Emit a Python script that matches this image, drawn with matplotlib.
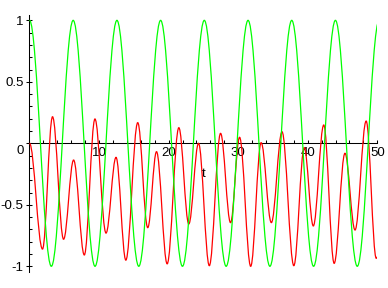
import matplotlib
matplotlib.use("Agg")
import matplotlib.pyplot as plt
import matplotlib.transforms as mtransforms
from matplotlib.path import Path
from matplotlib.patches import PathPatch
from matplotlib.ticker import MultipleLocator, FixedLocator

plt.rcParams['font.family'] = ['Liberation Sans', 'DejaVu Sans']
plt.rcParams['axes.unicode_minus'] = False

# Extrema (t, value)
green_t = [0.0, 3.14, 6.28, 9.42, 12.57, 15.71, 18.85, 21.99, 25.13, 28.27,
           31.42, 34.56, 37.70, 40.84, 43.98, 47.12, 50.27]
green_y = [1.0, -1.0, 1.0, -1.0, 1.0, -1.0, 1.0, -1.0, 1.0, -1.0,
           1.0, -1.0, 1.0, -1.0, 1.0, -1.0, 1.0]

red_t = [0.0, 1.87, 3.31, 4.90, 6.34, 7.88, 9.41, 11.0, 12.44, 13.85,
         15.56, 17.0, 18.26, 19.79, 21.47, 22.9, 24.3, 25.85, 27.47, 28.9,
         30.2, 31.8, 33.3, 34.77, 36.3, 38.0, 39.5, 40.8, 42.3, 43.8,
         45.35, 46.8, 48.4, 49.85, 50.0]
red_y = [0.0, -0.86, 0.216, -0.78, -0.136, -0.908, 0.198, -0.73, -0.114, -0.95,
         0.168, -0.686, -0.068, -0.98, 0.127, -0.656, 0.0, -0.995, 0.081, -0.645,
         0.049, -1.0, 0.005, -0.645, 0.094, -0.995, -0.035, -0.672, 0.149, -0.976,
         -0.081, -0.705, 0.181, -0.935, -0.925]

x_ticks = [10, 20, 30, 40, 50]
x_tick_labels = ["10", "20", "30", "40", "50"]
y_ticks = [-1, -0.5, 0, 0.5, 1]
y_tick_labels = ["-1", "-0.5", "0", "0.5", "1"]
x_label = "t"


def wave_path(ts, ys):
    """Smooth curve through successive extrema (horizontal tangents)."""
    verts = [(ts[0], ys[0])]
    codes = [Path.MOVETO]
    for i in range(len(ts) - 1):
        d = (ts[i + 1] - ts[i]) * 0.3634
        verts += [(ts[i] + d, ys[i]), (ts[i + 1] - d, ys[i + 1]), (ts[i + 1], ys[i + 1])]
        codes += [Path.CURVE4] * 3
    return Path(verts, codes)


fig = plt.figure(figsize=(3.88, 2.88), dpi=100)
ax = fig.add_axes([29.5 / 388, 0.054, (377.3 - 29.5) / 388, 0.8946])
ax.set_xlim(0, 50)
ax.set_ylim(-1.05, 1.045)

ax.add_patch(PathPatch(wave_path(red_t, red_y), fill=False, edgecolor='#ff0000', lw=0.9, zorder=2))
ax.add_patch(PathPatch(wave_path(green_t, green_y), fill=False, edgecolor='#00ff00', lw=0.9, zorder=3))

for s in ['top', 'right']:
    ax.spines[s].set_visible(False)
ax.spines['bottom'].set_position(('data', 0))
for s in ['left', 'bottom']:
    ax.spines[s].set_linewidth(0.75)
    ax.spines[s].set_color('black')
    ax.spines[s].set_zorder(1)

ax.xaxis.set_major_locator(FixedLocator(x_ticks))
ax.set_xticklabels(x_tick_labels)
ax.xaxis.set_minor_locator(MultipleLocator(2))
ax.tick_params(axis='x', which='both', direction='in', length=2.2, width=0.75, pad=2.5,
               labelsize=9.5, colors='black')

ax.yaxis.set_major_locator(FixedLocator(y_ticks))
ax.set_yticklabels(y_tick_labels)
ax.yaxis.set_minor_locator(MultipleLocator(0.1))
ax.tick_params(axis='y', which='major', direction='inout', length=4.3, width=0.75, pad=2.0,
               labelsize=9.5, colors='black')
ax.tick_params(axis='y', which='minor', direction='in', length=1.8, width=0.75)

# the "0" label sits just below the horizontal axis line
zero_shift = mtransforms.ScaledTranslation(0, -6 / 100, fig.dpi_scale_trans)
for tick in ax.yaxis.get_major_ticks():
    if tick.get_loc() == 0:
        tick.label1.set_transform(tick.label1.get_transform() + zero_shift)

ax.text(25, -0.276, x_label, ha='center', va='baseline', fontsize=9.5)

fig.savefig('out.png', dpi=100)
